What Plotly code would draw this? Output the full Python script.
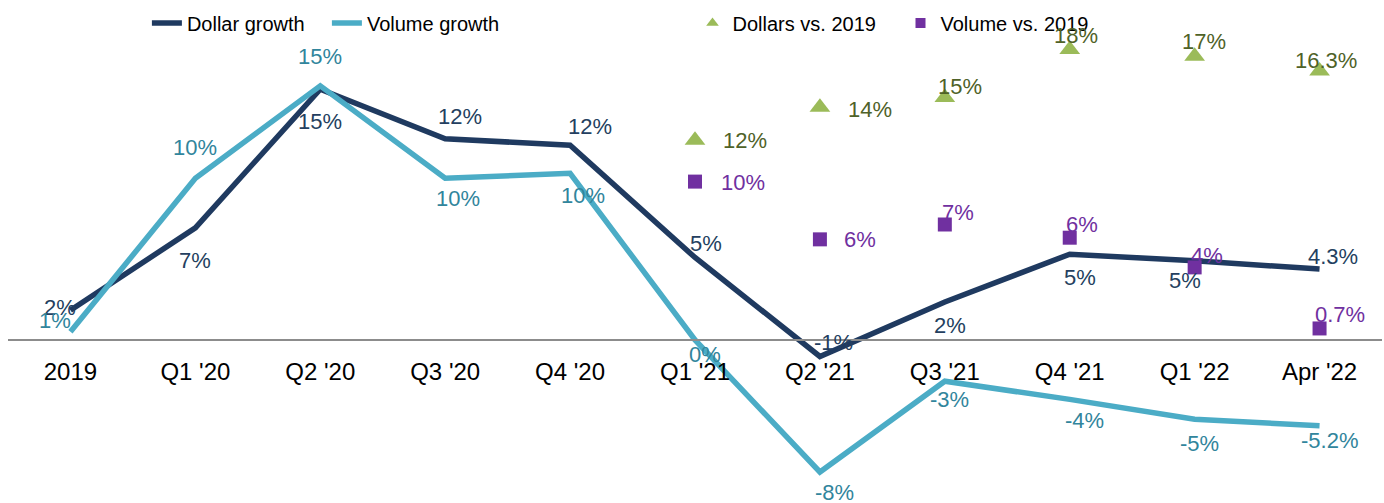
import plotly.graph_objects as go

categories = ["2019", "Q1 '20", "Q2 '20", "Q3 '20", "Q4 '20", "Q1 '21",
              "Q2 '21", "Q3 '21", "Q4 '21", "Q1 '22", "Apr '22"]
dollar_growth = [1.8, 6.8, 15.2, 12.2, 11.8, 5.0, -1.0, 2.3, 5.2, 4.8, 4.3]
dollar_labels = ["2%", "7%", "15%", "12%", "12%", "5%", "-1%", "2%", "5%", "5%", "4.3%"]
volume_growth = [0.5, 9.8, 15.4, 9.8, 10.1, 0.0, -8.0, -2.5, -3.6, -4.8, -5.2]
volume_labels = ["1%", "10%", "15%", "10%", "10%", "0%", "-8%", "-3%", "-4%", "-5%", "-5.2%"]
vs_categories = ["Q1 '21", "Q2 '21", "Q3 '21", "Q4 '21", "Q1 '22", "Apr '22"]
dollars_vs_2019 = [12.1, 14.1, 14.7, 17.6, 17.2, 16.3]
dollars_vs_labels = ["12%", "14%", "15%", "18%", "17%", "16.3%"]
volume_vs_2019 = [9.6, 6.1, 7.0, 6.2, 4.4, 0.7]
volume_vs_labels = ["10%", "6%", "7%", "6%", "4%", "0.7%"]

# label placement (pixel shifts) - styling only
dollar_off = [(-10, 3), (0, -33), (0, -32), (15, 22), (20, 19), (11, 14), (14, 14),
              (5, -23), (10, -23), (-10, -20), (13, 13)]
volume_off = [(-15, 11), (0, 31), (0, 29), (13, -20), (13, -22), (10, -14), (15, -20),
              (5, -18), (15, -21), (5, -24), (10, -15)]
tri_off = [(50, 0), (50, -2), (15, 11), (6, 14), (9, 15), (6, 11)]
sq_off = [(48, -1), (40, 0), (13, 12), (12, 13), (12, 12), (20, 14)]

NAVY = "#1F3A60"
TEAL = "#4BACC6"
GREEN = "#9BBB59"
PURPLE = "#7030A0"
NAVY_T = "#243F60"
TEAL_T = "#31859C"
GREEN_T = "#4F6228"
PURPLE_T = "#7030A0"
FONT = "Liberation Sans, Arial, sans-serif"

fig = go.Figure()
fig.add_trace(go.Scatter(x=categories, y=dollar_growth, mode="lines", name="Dollar growth",
                         line=dict(color=NAVY, width=5.5), legend="legend"))
fig.add_trace(go.Scatter(x=categories, y=volume_growth, mode="lines", name="Volume growth",
                         line=dict(color=TEAL, width=5.5), legend="legend"))
fig.add_trace(go.Scatter(x=vs_categories, y=dollars_vs_2019, mode="markers", name="Dollars vs. 2019",
                         marker=dict(symbol="triangle-up", size=18, color=GREEN), showlegend=False))
fig.add_trace(go.Scatter(x=vs_categories, y=volume_vs_2019, mode="markers", name="Volume vs. 2019",
                         marker=dict(symbol="square", size=14, color=PURPLE), showlegend=False))
# legend-only entries for marker series (smaller legend symbols)
fig.add_trace(go.Scatter(x=[None], y=[None], mode="markers", name="Dollars vs. 2019",
                         marker=dict(symbol="triangle-up", size=11, color=GREEN), legend="legend2"))
fig.add_trace(go.Scatter(x=[None], y=[None], mode="markers", name="Volume vs. 2019",
                         marker=dict(symbol="square", size=10, color=PURPLE), legend="legend2"))

ann = []
def add_labels(xs, ys, labels, offs, color):
    for x, y, t, (dx, dy) in zip(xs, ys, labels, offs):
        ann.append(dict(x=categories.index(x), y=y, xref="x", yref="y", text=t, showarrow=False,
                        xshift=dx, yshift=dy, xanchor="center", yanchor="middle",
                        font=dict(family=FONT, size=22, color=color)))

add_labels(categories, dollar_growth, dollar_labels, dollar_off, NAVY_T)
add_labels(categories, volume_growth, volume_labels, volume_off, TEAL_T)
add_labels(vs_categories, dollars_vs_2019, dollars_vs_labels, tri_off, GREEN_T)
add_labels(vs_categories, volume_vs_2019, volume_vs_labels, sq_off, PURPLE_T)

ymin, ymax = -9.879, 20.606
zero_pos = (0 - ymin) / (ymax - ymin)
leg_y = 1 - 23 / 503

fig.update_layout(
    width=1384, height=503,
    margin=dict(l=8, r=2, t=0, b=0, autoexpand=False),
    paper_bgcolor="white", plot_bgcolor="white",
    font=dict(family=FONT, size=20, color="#000000"),
    annotations=ann,
    legend=dict(orientation="h", x=(147 - 8) / 1375, y=leg_y, xref="paper", yref="container",
                yanchor="middle", xanchor="left", bgcolor="rgba(0,0,0,0)",
                font=dict(family=FONT, size=20, color="#000000"),
                entrywidth=135, entrywidthmode="pixels"),
    legend2=dict(orientation="h", x=(693 - 8) / 1375, y=leg_y, xref="paper", yref="container",
                 yanchor="middle", xanchor="left", bgcolor="rgba(0,0,0,0)",
                 font=dict(family=FONT, size=20, color="#000000"),
                 entrywidth=163, entrywidthmode="pixels"),
    xaxis=dict(type="category", range=[-0.5, 10.5], anchor="free", position=zero_pos,
               showline=True, linecolor="#8C8C8C", linewidth=2, showgrid=False,
               ticks="", ticklabelstandoff=10, automargin=False,
               tickfont=dict(family=FONT, size=24, color="#000000")),
    yaxis=dict(range=[ymin, ymax], visible=False, showgrid=False, zeroline=False),
)

fig.write_html("out.html")
